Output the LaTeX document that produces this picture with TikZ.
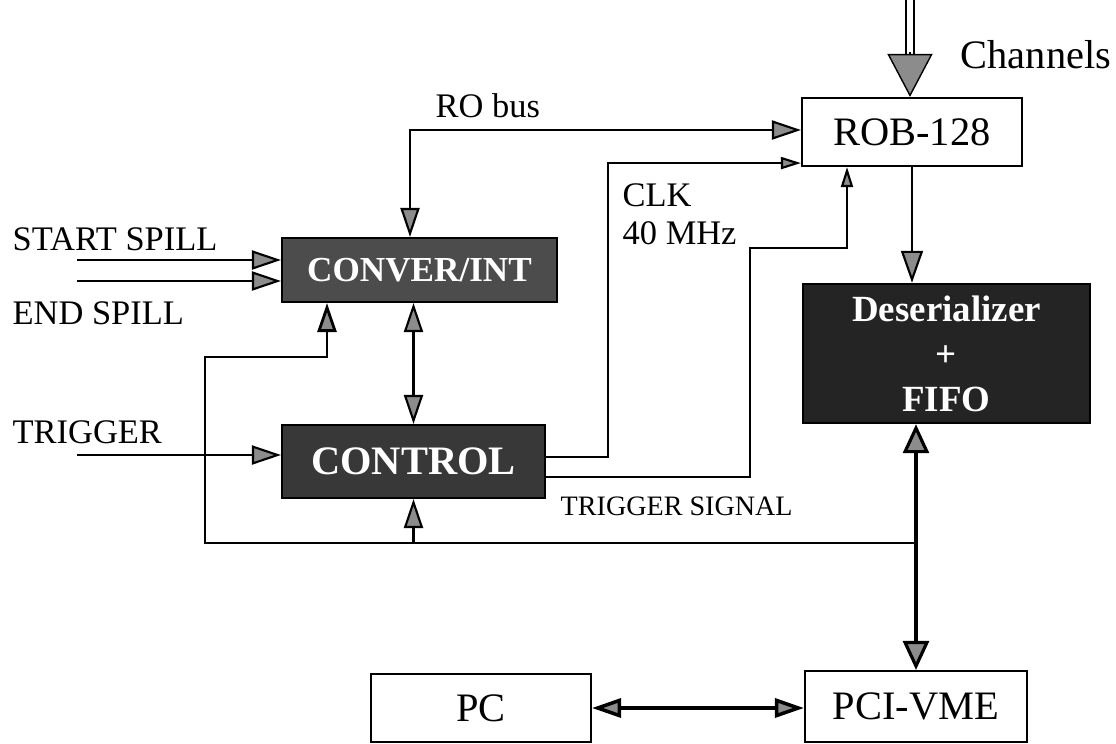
\documentclass[tikz,border=0pt]{standalone}
\usepackage{fontspec}
\setmainfont{Liberation Serif}
\usetikzlibrary{arrows.meta}

\tikzset{
    gtip/.tip={Triangle[length=0.29cm, width=0.19cm, fill=black!45]},
    btip/.tip={Triangle[length=0.29cm, width=0.26cm, fill=black!45]},
    ctip/.tip={Triangle[length=0.20cm, width=0.12cm, fill=black!45]},
    wire/.style={line width=0.6pt},
    lab/.style={anchor=base west, inner sep=0pt, font=\fontsize{9.8}{11}\selectfont},
    wbox/.style={draw, line width=0.6pt, minimum width=2.2cm, minimum height=0.68cm, font=\fontsize{11.5}{13}\selectfont},
    dbox/.style={draw, line width=0.6pt, fill=black!78, text=white},
}

\begin{document}
\begin{tikzpicture}
        \useasboundingbox (0,0) rectangle (11.16,-7.44);

        % Draw boxes
        \node[wbox] (rob) at (9.12,-1.32) {ROB-128};
        \node[dbox, minimum width=2.87cm, minimum height=1.33cm, fill=black!86, align=center, font={\fontsize{10.5}{12.8}\selectfont\bfseries}] (deser) at (9.465,-3.535) {Deserializer\\+\\FIFO};
        \node[dbox, minimum width=2.75cm, minimum height=0.64cm, fill=black!70, font={\fontsize{10}{12}\selectfont\bfseries}] (conver) at (4.195,-2.70) {CONVER/INT};
        \node[dbox, minimum width=2.63cm, minimum height=0.73cm, font={\fontsize{11.5}{13}\selectfont\bfseries}] (control) at (4.135,-4.615) {CONTROL};
        \node[wbox, minimum width=2.22cm, minimum height=0.71cm] (pcivme) at (9.16,-7.065) {PCI-VME};
        \node[wbox] (pc) at (4.81,-7.08) {PC};

        % Channels input
        \coordinate (chin) at (9.10,0);
        \draw[double, double distance=0.06cm, line width=0.7pt] (chin) -- ++(0,-0.56);
        \draw[-{Triangle[length=0.43cm, width=0.45cm, fill=black!45]}] ([yshift=-0.52cm]chin) -- (chin |- rob.north);
        \node[lab, font=\fontsize{11.5}{13}\selectfont] (lch) at (9.60,-0.68) {Channels};

        % RO bus
        \draw[wire, gtip-gtip] ([xshift=-0.095cm]conver.north) |- ([yshift=0.02cm]rob.west);
        \node[lab] (lro) at (4.35,-1.17) {RO bus};

        % CLK and trigger signal to the ROB
        \draw[wire, -ctip] ([yshift=0.045cm]control.east) -- ++(0.62,0) |- ([yshift=0.04cm]rob.south west);
        \node[lab, align=left, anchor=north west, font=\fontsize{9.8}{10.8}\selectfont] (lclk) at (6.22,-1.83) {CLK\\40 MHz};
        \coordinate (tsbend) at (7.50,-2.48);
        \draw[wire, -ctip] ([yshift=-0.155cm]control.east) -| (tsbend) -| ([xshift=-0.65cm]rob.south);
        \node[lab, font=\fontsize{8}{9}\selectfont] (lts) at (5.60,-5.15) {TRIGGER SIGNAL};

        % ROB to deserializer
        \draw[wire, -{Triangle[length=0.32cm, width=0.22cm, fill=black!45]}] (rob.south) -- (rob.south |- deser.north);

        % spill and trigger inputs
        \coordinate (ssin) at (0.77,-2.60);
        \coordinate (esin) at (0.77,-2.81);
        \coordinate (trgin) at (0.77,-4.55);
        \draw[wire, -gtip] (ssin) -- (ssin -| conver.west);
        \draw[wire, -gtip] (esin) -- (esin -| conver.west);
        \draw[wire, -gtip] (trgin) -- (trgin -| control.west);
        \node[lab] (lss) at (0.12,-2.50) {START SPILL};
        \node[lab] (les) at (0.12,-3.24) {END SPILL};
        \node[lab] (ltrg) at (0.12,-4.43) {TRIGGER};

        % CONVER/INT <-> CONTROL
        \draw[wire, gtip-gtip] (control.north |- conver.south) -- (control.north);

        % VME bus
        \coordinate (busj) at (9.16,-5.43);
        \coordinate (busw) at (2.05,-3.57);
        \draw[line width=0.8pt, -gtip] (busj) -| (busw) -| ([xshift=-0.925cm]conver.south);
        \draw[wire, -gtip] (control.south |- busj) -- (control.south);
        \draw[line width=0.9pt, btip-btip] (pcivme.north |- deser.south) -- (pcivme.north);

        % PC link
        \draw[line width=1pt, gtip-gtip] (pc.east) -- (pc.east -| pcivme.west);

\end{tikzpicture}
\end{document}
